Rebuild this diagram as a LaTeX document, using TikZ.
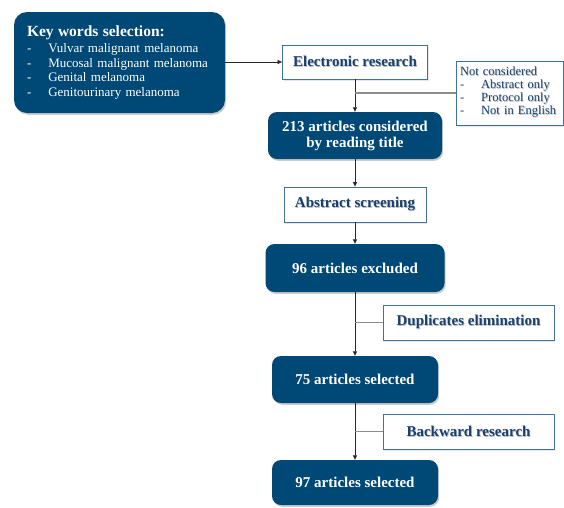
\documentclass[tikz,border=0pt]{standalone}
\usepackage{fontspec}
\setmainfont{Liberation Serif}
\usetikzlibrary{arrows.meta, shadows}

\definecolor{navyfill}{RGB}{0,72,117}
\definecolor{labelblue}{RGB}{24,64,112}
\definecolor{frameblue}{RGB}{65,113,156}
\newcommand{\shtxt}[1]{\makebox[0pt][l]{\hspace{0.8pt}\raisebox{-1pt}{\color{black!25}#1}}#1}

\begin{document}
\begin{tikzpicture}[x=1pt, y=-1pt,
  countbox/.style={rectangle, rounded corners=9pt, fill=navyfill, text=white,
    font=\bfseries\fontsize{15}{16}\selectfont, align=center,
    drop shadow={shadow xshift=1.2pt, shadow yshift=-1.8pt, opacity=0.4}},
  phasebox/.style={rectangle, draw=frameblue, line width=0.8pt, fill=white, text=labelblue,
    font=\bfseries\fontsize{15}{16}\selectfont,
    drop shadow={shadow xshift=1pt, shadow yshift=-1.5pt, opacity=0.2}},
  flow/.style={-{Triangle[length=4.5pt,width=4pt]}, line width=0.7pt, black!85},
  branch/.style={line width=1.2pt, black!45}]
\useasboundingbox (0,0) rectangle (564,507);

% Key words
\node[countbox, rounded corners=13pt, align=left, font=\fontsize{13}{14.5}\selectfont,
  text width=185pt, inner xsep=13pt, minimum width=211pt, minimum height=101pt]
  (keys) at (119.5,62.5)
  {{\bfseries\fontsize{15.5}{16}\selectfont Key words selection:}\\[1.5pt]
   -\hspace{17pt}Vulvar malignant melanoma\\
   -\hspace{17pt}Mucosal malignant melanoma\\
   -\hspace{17pt}Genital melanoma\\
   -\hspace{17pt}Genitourinary melanoma};

% Search
\node[phasebox, minimum width=145pt, minimum height=34pt] (elec) at (355,62) {\shtxt{Electronic research}};

% Not considered
\node[phasebox, font=\fontsize{12.5}{13}\selectfont, align=left, text width=99pt,
  inner xsep=4pt, minimum width=107pt, minimum height=64pt] (notc) at (509.5,93)
  {\shtxt{Not considered}\\
   -\hspace{17pt}\shtxt{Abstract only}\\
   -\hspace{17pt}\shtxt{Protocol only}\\
   -\hspace{17pt}\shtxt{Not in English}};

% Title reading
\node[countbox, minimum width=174pt, minimum height=47pt] (c213) at (355,135.5)
  {213 articles considered\\by reading title};

% Abstract screening
\node[phasebox, minimum width=142pt, minimum height=35pt] (abst) at (355,204.5) {\shtxt{Abstract screening}};

% Excluded
\node[countbox, minimum width=179pt, minimum height=48pt] (c96) at (355,268) {96 articles excluded};

% Duplicates
\node[phasebox, minimum width=171pt, minimum height=35pt] (dup) at (468.5,322.5) {\shtxt{Duplicates elimination}};

% Selected
\node[countbox, minimum width=166pt, minimum height=47pt] (c75) at (355,379.5) {75 articles selected};

% Backward research
\node[phasebox, minimum width=171pt, minimum height=35pt] (back) at (468.5,431.5) {\shtxt{Backward research}};

% Final
\node[countbox, minimum width=166pt, minimum height=45pt] (c97) at (355,482.5) {97 articles selected};

% Connectors
\draw[flow] (keys.east |- elec.west) -- (elec.west);
\draw[flow] (elec) -- (c213);
\draw[branch] (notc.west) -- (notc.west -| elec.south);
\draw[flow] (c213) -- (abst);
\draw[flow] (abst) -- (c96);
\draw[flow] (c96) -- (c75);
\draw[branch] (dup.west) -- (dup.west -| c96.south);
\draw[flow] (c75) -- (c97);
\draw[branch] (back.west) -- (back.west -| c75.south);
\end{tikzpicture}
\end{document}
